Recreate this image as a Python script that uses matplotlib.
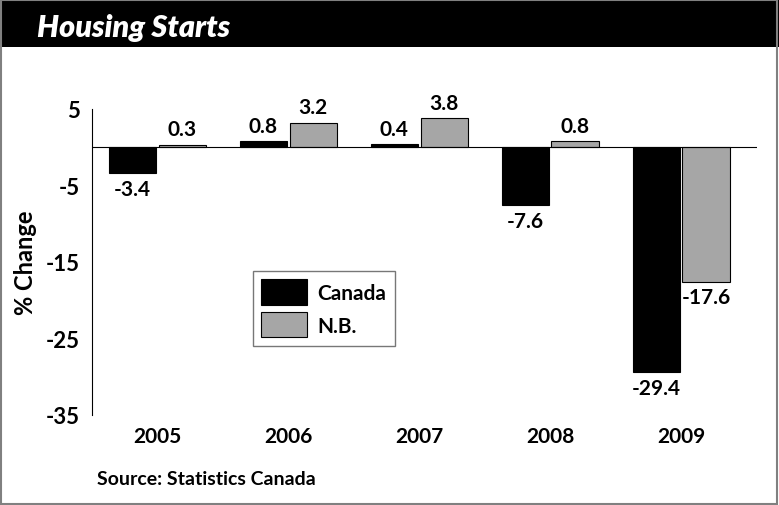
import numpy as np
import matplotlib.pyplot as plt
from matplotlib.patches import Rectangle

# data
years = ['2005', '2006', '2007', '2008', '2009']
canada = [-3.4, 0.8, 0.4, -7.6, -29.4]
nb = [0.3, 3.2, 3.8, 0.8, -17.6]
yticks = [5, -5, -15, -25, -35]

plt.rcParams['font.family'] = ['Lato', 'DejaVu Sans']

fig = plt.figure(figsize=(7.79, 5.06), dpi=100)

# title bar and border
fig.patches.append(Rectangle((0, 1 - 48 / 506), 1, 48 / 506, transform=fig.transFigure,
                             facecolor='black', edgecolor='none', zorder=0))
fig.patches.append(Rectangle((0.001, 0.002), 0.997, 0.996, transform=fig.transFigure,
                             facecolor='none', edgecolor='#808080', linewidth=1.5, zorder=1))
fig.text(37 / 779, 1 - 37 / 506, 'Housing Starts', color='white', fontsize=22,
         fontweight='heavy', style='italic', va='baseline')

ax = fig.add_axes([92 / 779, 1 - 416 / 506, (757 - 92) / 779, (416 - 110) / 506])

x = np.arange(len(years))
w = 0.36
off = 0.19
b1 = ax.bar(x - off, canada, w, color='black', edgecolor='black', linewidth=0.8, label='Canada')
b2 = ax.bar(x + off, nb, w, color='#a6a6a6', edgecolor='black', linewidth=0.8, label='N.B.')

for bars, vals in [(b1, canada), (b2, nb)]:
    for r, v in zip(bars, vals):
        if v >= 0:
            ax.annotate(f'{v:.1f}', (r.get_x() + r.get_width() / 2, v), xytext=(0, 4),
                        textcoords='offset points', ha='center', va='bottom',
                        fontsize=15, fontweight='bold')
        else:
            ax.annotate(f'{v:.1f}', (r.get_x() + r.get_width() / 2, v), xytext=(0, -4),
                        textcoords='offset points', ha='center', va='top',
                        fontsize=15, fontweight='bold')

ax.axhline(0, color='black', linewidth=0.8)
ax.set_xlim(-0.5, 4.58)
ax.set_ylim(-35, 5)
ax.set_yticks(yticks)
ax.set_yticklabels([str(t) for t in yticks], fontsize=16, fontweight='bold')
ax.set_xticks(x)
ax.set_xticklabels(years, fontsize=15, fontweight='bold')
ax.tick_params(length=0)
ax.tick_params(axis='y', pad=9)
ax.tick_params(axis='x', pad=8)
for s in ['top', 'right', 'bottom']:
    ax.spines[s].set_visible(False)
ax.spines['left'].set_linewidth(0.8)
ax.set_ylabel('% Change', fontsize=17, fontweight='bold', labelpad=6)

leg = ax.legend(loc='upper left', bbox_to_anchor=((253 - 92) / 665, (416 - 272) / 306),
                prop={'size': 15, 'weight': 'bold'}, frameon=True, fancybox=False,
                edgecolor='#555555', handlelength=2.2, handleheight=1.5, handletextpad=0.5,
                borderpad=0.4, labelspacing=0.35, borderaxespad=0)
leg.get_frame().set_linewidth(1.0)

fig.text(97 / 779, 1 - 480 / 506, 'Source: Statistics Canada', fontsize=14,
         fontweight='bold', va='center')

fig.savefig('out.png', dpi=100)
